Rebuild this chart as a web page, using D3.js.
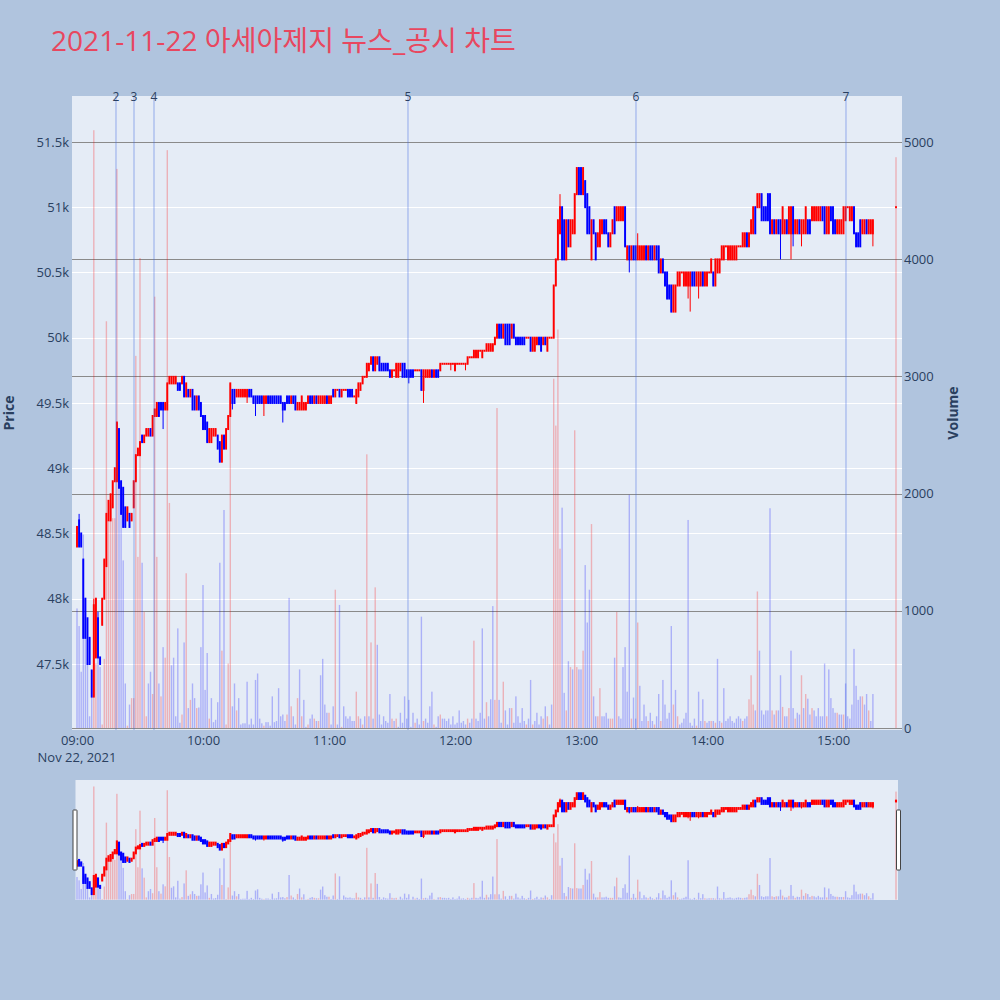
<!DOCTYPE html>
<html><head><meta charset="utf-8">
<script src="https://cdn.jsdelivr.net/npm/d3@7/dist/d3.min.js"></script>
<style>
html,body{margin:0;padding:0;background:#b0c4de;}
svg{display:block;font-family:"Open Sans","Noto Sans CJK KR",sans-serif;}
</style></head><body>
<svg id="chart" width="1000" height="1000"></svg>
<script>
const title = "2021-11-22 아세아제지 뉴스_공시 차트";
const tradeDate = "2021-11-22";
const sessionStart = "09:00:00";
const closingAuction = "15:30:00";
const prevDayClose = 48650;

const open = [
48400,48600,48500,48300,48000,47850,47700,47450,47250,47550,
47850,47550,47800,48000,48250,48600,48600,48700,48900,48900,
49300,48900,48850,48700,48600,48650,48600,48700,48900,49100,
49100,49250,49200,49250,49250,49300,49250,49400,49400,49500,
49500,49500,49450,49450,49650,49650,49650,49650,49650,49650,
49650,49700,49550,49600,49550,49600,49550,49450,49550,49500,
49400,49400,49350,49200,49200,49250,49250,49250,49200,49050,
49250,49150,49300,49400,49600,49600,49550,49550,49550,49550,
49550,49550,49600,49600,49550,49550,49550,49550,49550,49500,
49500,49550,49550,49550,49550,49550,49550,49550,49500,49500,
49550,49550,49500,49550,49550,49450,49450,49450,49450,49450,
49500,49550,49550,49500,49550,49500,49500,49500,49500,49550,
49500,49500,49600,49550,49600,49600,49550,49600,49600,49600,
49600,49600,49550,49500,49550,49600,49650,49700,49700,49750,
49800,49850,49750,49800,49850,49800,49800,49800,49800,49750,
49700,49750,49700,49700,49750,49800,49800,49750,49750,49750,
49750,49750,49750,49750,49750,49600,49700,49700,49700,49750,
49700,49750,49750,49750,49800,49800,49800,49800,49800,49800,
49750,49800,49800,49800,49800,49800,49800,49850,49850,49850,
49850,49850,49900,49850,49900,49900,49900,49900,49900,49950,
50000,50100,50100,50000,50100,50100,50100,50000,50100,50000,
50000,50000,50000,50000,50000,50000,50000,49900,49900,49950,
50000,50000,49950,50000,49900,50000,50000,50000,50400,50600,
50800,51000,50900,50600,50900,50700,50800,50800,51100,51300,
51300,51100,51200,51100,51000,50600,50900,50800,50700,50700,
50800,50900,50900,50800,50700,50800,51000,50900,50900,50900,
50900,51000,50600,50700,50600,50700,50700,50600,50600,50600,
50600,50700,50600,50700,50700,50600,50700,50700,50500,50600,
50500,50500,50400,50400,50200,50200,50400,50400,50500,50400,
50400,50400,50400,50500,50500,50400,50400,50400,50500,50400,
50400,50500,50500,50500,50400,50500,50500,50600,50600,50700,
50600,50600,50600,50600,50600,50700,50700,50700,50700,50800,
50700,50800,50800,51000,51000,51000,51100,51000,51000,51100,
51100,50800,50900,50800,50900,50900,50800,50800,50900,50800,
50800,51000,50800,50800,50900,50800,50800,50800,50900,50900,
50900,50900,50900,50900,50900,51000,51000,50800,50800,51000,
51000,50900,50800,50800,50800,50800,50900,51000,50900,50900,
51000,50800,50800,50900,50800,50800,50900,50800,50800,50800,
51000];

const high = [
48550,48650,48500,48300,48000,47850,47700,47450,48000,48000,
47900,47550,48000,48300,48650,48750,48800,48900,49000,49350,
49300,48900,48850,48700,48700,48650,48650,48900,49100,49150,
49200,49250,49250,49300,49300,49300,49400,49450,49500,49500,
49500,49500,49500,49650,49700,49700,49700,49700,49650,49650,
49700,49700,49650,49600,49600,49600,49550,49550,49550,49500,
49400,49400,49350,49300,49300,49300,49300,49250,49200,49250,
49250,49300,49400,49650,49600,49600,49600,49600,49600,49600,
49600,49600,49600,49600,49550,49550,49550,49550,49550,49550,
49550,49550,49550,49550,49550,49550,49550,49550,49500,49500,
49550,49550,49550,49550,49550,49500,49500,49550,49500,49500,
49550,49550,49550,49550,49550,49550,49550,49550,49550,49550,
49550,49550,49600,49600,49600,49600,49600,49600,49600,49600,
49600,49600,49550,49600,49650,49650,49700,49700,49800,49800,
49850,49850,49850,49850,49850,49800,49800,49800,49800,49750,
49750,49750,49800,49800,49800,49800,49800,49750,49750,49750,
49750,49750,49750,49750,49750,49750,49750,49750,49750,49750,
49750,49750,49750,49800,49800,49800,49800,49800,49800,49800,
49800,49800,49800,49800,49800,49800,49850,49850,49850,49900,
49900,49900,49900,49900,49900,49950,49950,49950,49950,50000,
50100,50100,50100,50100,50100,50100,50100,50100,50100,50000,
50000,50000,50000,50000,50000,50000,50000,50000,50000,50000,
50000,50000,50000,50000,50000,50000,50000,50400,50600,50900,
51100,51000,50900,50900,50900,50900,50900,51100,51300,51300,
51300,51300,51200,51100,51000,50900,50900,50800,50800,50900,
50900,50900,50900,50800,50800,50900,51000,51000,51000,51000,
51000,51000,50700,50700,50700,50700,50700,50800,50700,50700,
50700,50700,50700,50700,50700,50700,50700,50700,50600,50600,
50500,50500,50400,50400,50400,50400,50500,50500,50500,50500,
50500,50500,50500,50500,50500,50500,50500,50500,50500,50500,
50500,50500,50600,50500,50600,50600,50600,50700,50700,50700,
50700,50700,50700,50700,50700,50700,50700,50800,50800,50800,
50800,50900,51000,51000,51100,51100,51100,51000,51000,51100,
51100,50900,50900,50900,50900,50900,51000,50900,50900,51000,
51000,51000,50900,50900,50900,50900,50900,51000,50900,50900,
51000,51000,51000,51000,51000,51000,51000,51000,51000,51000,
51000,50900,50900,50900,50900,51000,51000,51000,51000,51000,
51000,50800,50800,50900,50900,50900,50900,50900,50900,50900,
51000];

const low = [
48400,48400,48400,47700,47700,47500,47500,47250,47250,47550,
47550,47500,47800,48000,48250,48600,48600,48700,48900,48900,
48850,48650,48550,48550,48600,48550,48600,48700,48900,49100,
49100,49200,49200,49250,49250,49250,49250,49400,49400,49400,
49450,49300,49450,49450,49650,49650,49650,49650,49600,49600,
49650,49550,49550,49550,49550,49450,49450,49450,49450,49400,
49300,49300,49200,49200,49200,49250,49250,49150,49050,49050,
49150,49150,49300,49400,49450,49500,49550,49550,49550,49550,
49550,49500,49550,49550,49500,49400,49500,49500,49500,49400,
49500,49500,49500,49500,49500,49500,49500,49500,49350,49450,
49500,49500,49500,49500,49450,49450,49450,49450,49450,49450,
49500,49500,49500,49500,49500,49500,49500,49500,49500,49500,
49500,49500,49550,49550,49600,49550,49550,49600,49600,49550,
49550,49550,49550,49500,49550,49600,49650,49700,49700,49750,
49800,49750,49750,49800,49750,49750,49750,49750,49750,49700,
49700,49750,49700,49700,49750,49700,49700,49700,49650,49700,
49700,49750,49750,49750,49600,49500,49700,49700,49700,49700,
49700,49700,49700,49750,49800,49800,49800,49800,49750,49800,
49750,49800,49800,49800,49800,49750,49800,49850,49850,49850,
49850,49850,49900,49850,49900,49900,49900,49900,49900,49950,
50000,50000,50000,50000,49950,49950,49950,50000,50000,49950,
49950,49950,49950,49950,50000,50000,49900,49900,49900,49950,
49950,49900,49950,49950,49900,50000,50000,50000,50400,50600,
50800,50600,50600,50600,50700,50700,50800,50800,51100,51100,
51100,51100,51000,50800,50800,50600,50800,50600,50700,50700,
50800,50800,50800,50700,50700,50800,50800,50900,50900,50900,
50900,50700,50600,50500,50600,50600,50600,50600,50600,50600,
50600,50600,50600,50600,50600,50600,50600,50500,50500,50500,
50400,50300,50300,50200,50200,50200,50400,50400,50500,50400,
50400,50300,50200,50400,50400,50400,50300,50400,50400,50400,
50400,50500,50500,50400,50400,50500,50500,50600,50600,50700,
50600,50600,50600,50600,50600,50700,50700,50700,50700,50700,
50700,50800,50800,50800,51000,51000,50900,50900,50900,50900,
50800,50800,50800,50800,50800,50600,50800,50800,50800,50800,
50600,50700,50800,50800,50800,50700,50800,50800,50800,50800,
50900,50900,50900,50900,50900,50900,50800,50800,50800,50900,
50800,50800,50800,50800,50800,50800,50900,51000,50900,50900,
50800,50700,50700,50700,50800,50800,50800,50800,50800,50700,
51000];

const close = [
48550,48400,48400,47700,47700,47500,47500,47250,47950,48000,
47550,47500,48000,48300,48650,48750,48800,48900,49000,49350,
48850,48650,48550,48550,48700,48550,48650,48900,49100,49150,
49200,49200,49250,49300,49300,49250,49400,49450,49500,49400,
49450,49450,49500,49650,49700,49700,49700,49700,49600,49600,
49700,49550,49650,49550,49600,49450,49450,49550,49450,49400,
49300,49300,49200,49300,49300,49300,49300,49150,49050,49250,
49150,49300,49400,49650,49500,49500,49600,49600,49600,49600,
49600,49600,49550,49550,49500,49500,49500,49500,49500,49550,
49550,49500,49500,49500,49500,49500,49500,49500,49450,49450,
49500,49500,49550,49500,49450,49500,49500,49550,49500,49500,
49550,49500,49500,49550,49500,49550,49550,49550,49550,49500,
49550,49550,49550,49600,49600,49550,49600,49600,49600,49550,
49550,49550,49550,49600,49650,49650,49700,49700,49800,49800,
49850,49750,49850,49850,49750,49750,49750,49750,49750,49700,
49750,49750,49800,49800,49800,49700,49700,49700,49700,49700,
49700,49750,49750,49750,49600,49750,49750,49750,49750,49700,
49750,49700,49700,49800,49800,49800,49800,49800,49800,49800,
49800,49800,49800,49800,49800,49800,49850,49850,49850,49900,
49900,49900,49900,49900,49900,49950,49950,49950,49950,50000,
50100,50000,50000,50100,49950,49950,49950,50100,50000,49950,
49950,49950,49950,49950,50000,50000,49900,50000,50000,50000,
49950,49900,50000,49950,50000,50000,50000,50400,50600,50900,
51000,50600,50600,50900,50700,50900,50900,51100,51300,51100,
51100,51300,51000,50800,50800,50900,50800,50600,50800,50900,
50900,50800,50800,50700,50800,50900,50800,51000,51000,51000,
51000,50700,50700,50600,50700,50600,50600,50700,50700,50700,
50700,50600,50700,50600,50600,50700,50600,50500,50600,50500,
50400,50300,50300,50200,50400,50400,50500,50500,50500,50500,
50500,50500,50500,50400,50400,50500,50500,50500,50400,50500,
50500,50500,50600,50400,50600,50600,50600,50700,50700,50700,
50700,50700,50700,50700,50700,50700,50700,50800,50800,50700,
50800,50900,51000,50800,51100,51100,50900,50900,50900,50900,
50800,50900,50800,50900,50800,50800,51000,50900,50800,51000,
51000,50800,50900,50900,50800,50900,50900,51000,50800,50800,
51000,51000,51000,51000,51000,50900,50800,51000,51000,50900,
50800,50800,50900,50900,50900,51000,51000,51000,51000,51000,
50800,50700,50700,50700,50900,50900,50800,50900,50900,50900,
51000];

const volume = [
1020,870,480,1650,1110,550,100,270,5100,550,
690,520,30,590,3470,1760,1920,1790,1790,4770,
2250,1850,1430,380,20,200,255,255,3175,1460,
4010,1410,990,100,380,480,290,3680,1460,380,
270,690,600,4930,1920,535,600,100,850,45,
115,730,1320,170,240,380,255,170,175,690,
1220,325,640,80,255,50,70,220,1410,660,
1860,30,550,2700,185,380,150,255,30,40,
40,395,30,80,30,410,465,80,40,20,
50,50,20,270,50,60,340,100,115,60,
115,1110,185,100,30,255,500,100,240,10,
30,80,115,80,60,60,450,590,200,130,
130,30,185,1180,30,1050,10,185,100,80,
100,60,60,310,100,80,30,100,2335,100,
730,80,1200,710,115,30,100,60,45,290,
80,60,80,10,130,45,270,80,240,10,
130,45,80,30,950,60,80,45,185,310,
30,10,100,115,80,80,60,80,30,100,
30,45,150,45,60,30,80,45,80,745,
80,60,130,850,80,220,100,245,1040,240,
2730,240,45,395,150,30,170,170,45,270,
100,45,170,60,30,80,410,30,60,130,
30,100,80,185,100,30,200,2980,2580,3400,
1530,1880,300,150,570,520,500,2540,520,500,
500,660,1390,900,1180,1740,270,100,100,340,
100,100,130,80,80,80,600,990,100,80,
520,690,310,1990,80,260,80,900,360,60,
200,100,60,130,60,30,100,290,60,410,
200,80,130,870,200,325,100,30,45,80,
130,1775,45,20,80,20,310,60,245,60,
45,60,60,60,45,590,60,45,340,60,
80,100,60,45,80,100,80,60,80,100,
245,450,200,150,1165,660,150,115,150,150,
1875,150,115,150,150,450,180,100,100,170,
660,170,80,130,115,450,170,290,250,115,
170,150,100,170,100,100,550,100,500,255,
170,130,130,115,115,115,380,100,80,200,
675,360,240,270,270,200,290,150,60,290,
4870];

const priceTicks = [47500,48000,48500,49000,49500,50000,50500,51000,51500];
const volumeTicks = [0,1000,2000,3000,4000,5000];
const hourTicks = ["09:00","10:00","11:00","12:00","13:00","14:00","15:00"];
const newsLabels = ["2","3","4","5","6","7"];
const newsTimes = ["09:18:34","09:27:09","09:36:40","11:37:37","13:26:11","15:06:11"];

// ---------- layout ----------
const W = 1000, H = 1000;
const M = {l:72, r:902, t:96, b:730};
const S = {l:75.5, r:898, t:780, b:900};
const svg = d3.select("#chart");
const parse = d3.timeParse("%Y-%m-%d %H:%M:%S");
const t0 = parse(tradeDate + " " + sessionStart);
const times = open.map((_, i) => i < open.length - 1 ? d3.timeMinute.offset(t0, i) : parse(tradeDate + " " + closingAuction));

const x = d3.scaleTime().domain([new Date(+t0 - 142857), new Date(+t0 + 23571428)]).range([M.l, M.r]);
const y = d3.scaleLinear().domain([46994, 51852]).range([M.b, M.t]);
const yv = d3.scaleLinear().domain([-17, 5392]).range([M.b, M.t]);
const ys = d3.scaleLinear().domain(y.domain()).range([S.b, S.t]);
const yvs = d3.scaleLinear().domain(yv.domain()).range([S.b, S.t]);

const data = times.map((t, i) => {
  const pc = i === 0 ? prevDayClose : close[i - 1];
  const o = open[i], c = close[i];
  return {t, o, h: high[i], l: low[i], c, v: volume[i],
          inc: c > o || (c === o && c >= pc), up: c > pc};
});

svg.append("rect").attr("width", W).attr("height", H).attr("fill", "#b0c4de");

// title
const tt = svg.append("text").attr("x", 51).attr("y", 51)
  .attr("font-size", 27).attr("fill", "#e8475f").text(title);
const tw = tt.node().getComputedTextLength();
if (tw > 0) tt.attr("font-size", 27 * 465 / tw);

// plot background
svg.append("rect").attr("x", M.l).attr("y", M.t).attr("width", M.r - M.l).attr("height", M.b - M.t).attr("fill", "#e5ecf6");

// grids
svg.append("g").selectAll("line").data(priceTicks).join("line")
  .attr("x1", M.l).attr("x2", M.r)
  .attr("y1", d => Math.round(y(d)) + 0.5).attr("y2", d => Math.round(y(d)) + 0.5)
  .attr("stroke", "#ffffff").attr("stroke-width", 1);
svg.append("g").selectAll("line").data(volumeTicks).join("line")
  .attr("x1", M.l).attr("x2", M.r)
  .attr("y1", d => Math.round(yv(d)) + 0.5).attr("y2", d => Math.round(yv(d)) + 0.5)
  .attr("stroke", "#8a8a8a").attr("stroke-width", 1);

// clip
const defs = svg.append("defs");
defs.append("clipPath").attr("id", "clipMain").append("rect")
  .attr("x", M.l).attr("y", M.t).attr("width", M.r - M.l).attr("height", M.b - M.t);
defs.append("clipPath").attr("id", "clipSlider").append("rect")
  .attr("x", S.l).attr("y", S.t).attr("width", S.r - S.l).attr("height", S.b - S.t);

function drawVolume(g, ysc) {
  g.selectAll("rect").data(data).join("rect")
    .attr("x", d => x(d.t) - 0.7).attr("width", 1.4)
    .attr("y", d => ysc(d.v)).attr("height", d => ysc(0) - ysc(d.v))
    .attr("fill", d => d.up ? "rgba(255,0,0,0.25)" : "rgba(0,0,255,0.25)");
}
function drawCandles(g, ysc, bw, pad) {
  const c = g.selectAll("g").data(data).join("g");
  c.append("line")
    .attr("x1", d => x(d.t)).attr("x2", d => x(d.t))
    .attr("y1", d => ysc(d.h)).attr("y2", d => ysc(d.l))
    .attr("stroke", d => d.inc ? "red" : "blue").attr("stroke-width", 1);
  c.append("rect")
    .attr("x", d => x(d.t) - bw / 2).attr("width", bw)
    .attr("y", d => ysc(Math.max(d.o, d.c)) - pad)
    .attr("height", d => ysc(Math.min(d.o, d.c)) - ysc(Math.max(d.o, d.c)) + 2 * pad)
    .attr("fill", d => d.inc ? "red" : "blue");
}

drawVolume(svg.append("g").attr("clip-path", "url(#clipMain)"), yv);
drawCandles(svg.append("g").attr("clip-path", "url(#clipMain)"), y, 1.9, 1);

// news lines
const news = newsTimes.map((s, i) => ({t: parse(tradeDate + " " + s), label: newsLabels[i]}));
const ng = svg.append("g");
ng.selectAll("line").data(news).join("line")
  .attr("x1", d => x(d.t)).attr("x2", d => x(d.t))
  .attr("y1", M.t).attr("y2", M.b)
  .attr("stroke", "rgba(65,105,225,0.5)").attr("stroke-width", 1);
ng.selectAll("text").data(news).join("text")
  .attr("x", d => x(d.t)).attr("y", 101).attr("text-anchor", "middle")
  .attr("font-size", 12).attr("fill", "#2a3f5f").text(d => d.label);

// axes
const axisColor = "#2a3f5f";
function styleAxis(g) {
  g.select(".domain").remove();
  g.selectAll(".tick line").remove();
  g.selectAll("text").attr("fill", axisColor).attr("font-size", 13)
    .attr("font-family", "'Open Sans', sans-serif");
}
svg.append("g").attr("transform", `translate(${M.l},0)`)
  .call(d3.axisLeft(y).tickValues(priceTicks).tickSize(0).tickPadding(3).tickFormat(d => d / 1000 + "k"))
  .call(styleAxis);
svg.append("g").attr("transform", `translate(${M.r},0)`)
  .call(d3.axisRight(yv).tickValues(volumeTicks).tickSize(0).tickPadding(2).tickFormat(d3.format("d")))
  .call(styleAxis);
const hourDates = hourTicks.map(h => parse(tradeDate + " " + h + ":00"));
svg.append("g").attr("transform", `translate(0,${M.b})`)
  .call(d3.axisBottom(x).tickValues(hourDates).tickSize(0).tickPadding(6).tickFormat(d3.timeFormat("%H:%M")))
  .call(styleAxis);
svg.append("text").attr("x", x(t0)).attr("y", 762).attr("text-anchor", "middle")
  .attr("font-size", 13).attr("fill", axisColor).text(d3.timeFormat("%b %-d, %Y")(t0));

svg.append("text").attr("transform", "translate(14,413) rotate(-90)").attr("text-anchor", "middle")
  .attr("font-size", 14).attr("font-weight", "bold").attr("fill", axisColor).text("Price");
svg.append("text").attr("transform", "translate(958,413) rotate(-90)").attr("text-anchor", "middle")
  .attr("font-size", 14).attr("font-weight", "bold").attr("fill", axisColor).text("Volume");

// range slider
svg.append("rect").attr("x", S.l).attr("y", S.t).attr("width", S.r - S.l).attr("height", S.b - S.t).attr("fill", "#e5ecf6");
drawVolume(svg.append("g").attr("clip-path", "url(#clipSlider)"), yvs);
drawCandles(svg.append("g").attr("clip-path", "url(#clipSlider)"), ys, 2.1, 1.4);
[S.l - 2.5, S.r - 1.5].forEach(hx => {
  svg.append("rect").attr("x", hx).attr("y", 810).attr("width", 4).attr("height", 60)
    .attr("fill", "#ffffff").attr("stroke", "#444").attr("stroke-width", 1).attr("rx", 0.5);
});
</script>
</body></html>
